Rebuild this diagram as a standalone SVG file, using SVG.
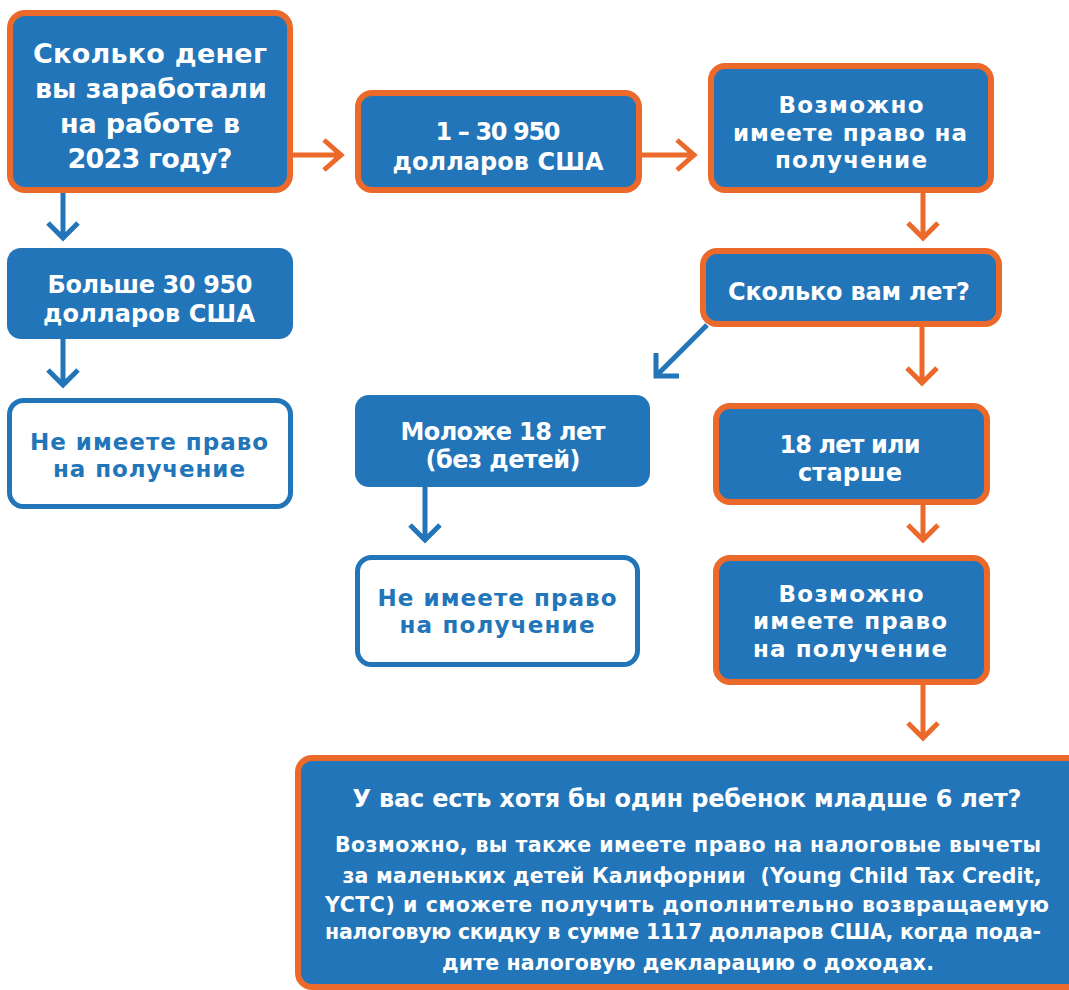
<svg xmlns="http://www.w3.org/2000/svg" width="1069" height="990" viewBox="0 0 1069 990">
<style>
.bo{fill:#2275b8;stroke:#eb6a2b;stroke-width:6}
.bf{fill:#2275b8}
.wb{fill:#fff;stroke:#2275b8;stroke-width:5}
text{font-family:"DejaVu Sans","Liberation Sans",sans-serif;font-weight:700;text-anchor:middle}
.w{fill:#fff}
.b{fill:#2275b8}
.t28{font-size:27px}
.t24{font-size:23px}
.t25{font-size:24px}
.tt{font-size:24px}
.t19{font-size:20.5px}
.ao{fill:none;stroke:#eb6a2b;stroke-width:5}
.ab{fill:none;stroke:#2275b8;stroke-width:5}
</style>
<rect width="1069" height="990" fill="#fff"/>
<g id="connectors">
<path class="ao" d="M293 155H340M324 140L341 155L324 170"/>
<path class="ao" d="M642 155H693M677 140L694 155L677 170"/>
<path class="ao" d="M923 193V238M908 223L923 238L938 223"/>
<path class="ao" d="M922 327V383M907 368L922 383L937 368"/>
<path class="ao" d="M923 505V540M908 525L923 540L938 525"/>
<path class="ao" d="M923 685V738M908 723L923 738L938 723"/>
<path class="ab" d="M63 193V238M48 223L63 238L78 223"/>
<path class="ab" d="M63 339V385M48 370L63 385L78 370"/>
<path class="ab" d="M425 487V540M410 525L425 540L440 525"/>
<path class="ab" d="M707 325L657 375M656 353V376H679"/>
</g>
<g id="n1"><rect class="bo" x="10" y="13" width="280" height="177" rx="15"/>
<text class="w t28" x="150" y="63" textLength="234">Сколько денег</text>
<text class="w t28" x="151" y="98" textLength="232">вы заработали</text>
<text class="w t28" x="150" y="133" textLength="180">на работе в</text>
<text class="w t28" x="150" y="168" textLength="165">2023 году?</text></g>
<g id="n2"><rect class="bo" x="358" y="93" width="281" height="97" rx="14"/>
<text class="w t25" x="498" y="140" textLength="125">1 – 30 950</text>
<text class="w t25" x="498" y="170" textLength="211">долларов США</text></g>
<g id="n3"><rect class="bo" x="711" y="66" width="280" height="124" rx="14"/>
<text class="w t24" x="851" y="113" textLength="145">Возможно</text>
<text class="w t24" x="850" y="141" textLength="234">имеете право на</text>
<text class="w t24" x="851" y="168" textLength="152">получение</text></g>
<g id="n4"><rect class="bo" x="703" y="251" width="296" height="73" rx="14"/>
<text class="w t25" x="849" y="300" textLength="242">Сколько вам лет?</text></g>
<g id="n5"><rect class="bo" x="716" y="406" width="271" height="96" rx="14"/>
<text class="w t25" x="850" y="453" textLength="141">18 лет или</text>
<text class="w t25" x="850" y="481" textLength="104">старше</text></g>
<g id="n6"><rect class="bo" x="716" y="558" width="271" height="124" rx="14"/>
<text class="w t24" x="851" y="602" textLength="145">Возможно</text>
<text class="w t24" x="850" y="629" textLength="194">имеете право</text>
<text class="w t24" x="850" y="657" textLength="194">на получение</text></g>
<g id="n7"><rect class="bf" x="7" y="248" width="286" height="91" rx="14"/>
<text class="w t25" x="150" y="293" textLength="205">Больше 30 950</text>
<text class="w t25" x="149" y="322" textLength="212">долларов США</text></g>
<g id="n8"><rect class="wb" x="9.5" y="400.5" width="281" height="106" rx="14"/>
<text class="b t24" x="149" y="450" textLength="238">Не имеете право</text>
<text class="b t24" x="149" y="477" textLength="192">на получение</text></g>
<g id="n9"><rect class="bf" x="355" y="395" width="295" height="92" rx="14"/>
<text class="w t25" x="503" y="440" textLength="205">Моложе 18 лет</text>
<text class="w t25" x="503" y="468" textLength="155">(без детей)</text></g>
<g id="n10"><rect class="wb" x="357.5" y="557.5" width="280" height="107" rx="14"/>
<text class="b t24" x="497" y="606" textLength="239">Не имеете право</text>
<text class="b t24" x="497" y="633" textLength="195">на получение</text></g>
<g id="n11"><rect class="bo" x="298" y="758" width="800" height="229" rx="14"/>
<text class="w tt" x="687" y="807" textLength="669">У вас есть хотя бы один ребенок младше 6 лет?</text>
<text class="w t19" x="688" y="852" textLength="706">Возможно, вы также имеете право на налоговые вычеты</text>
<text class="w t19" x="692" y="883" textLength="699" xml:space="preserve">за маленьких детей Калифорнии  (Young Child Tax Credit,</text>
<text class="w t19" x="687" y="912" textLength="724">YCTC) и сможете получить дополнительно возвращаемую</text>
<text class="w t19" x="683" y="939" textLength="716">налоговую скидку в сумме 1117 долларов США, когда пода-</text>
<text class="w t19" x="688" y="970" textLength="492">дите налоговую декларацию о доходах.</text></g>
</svg>
